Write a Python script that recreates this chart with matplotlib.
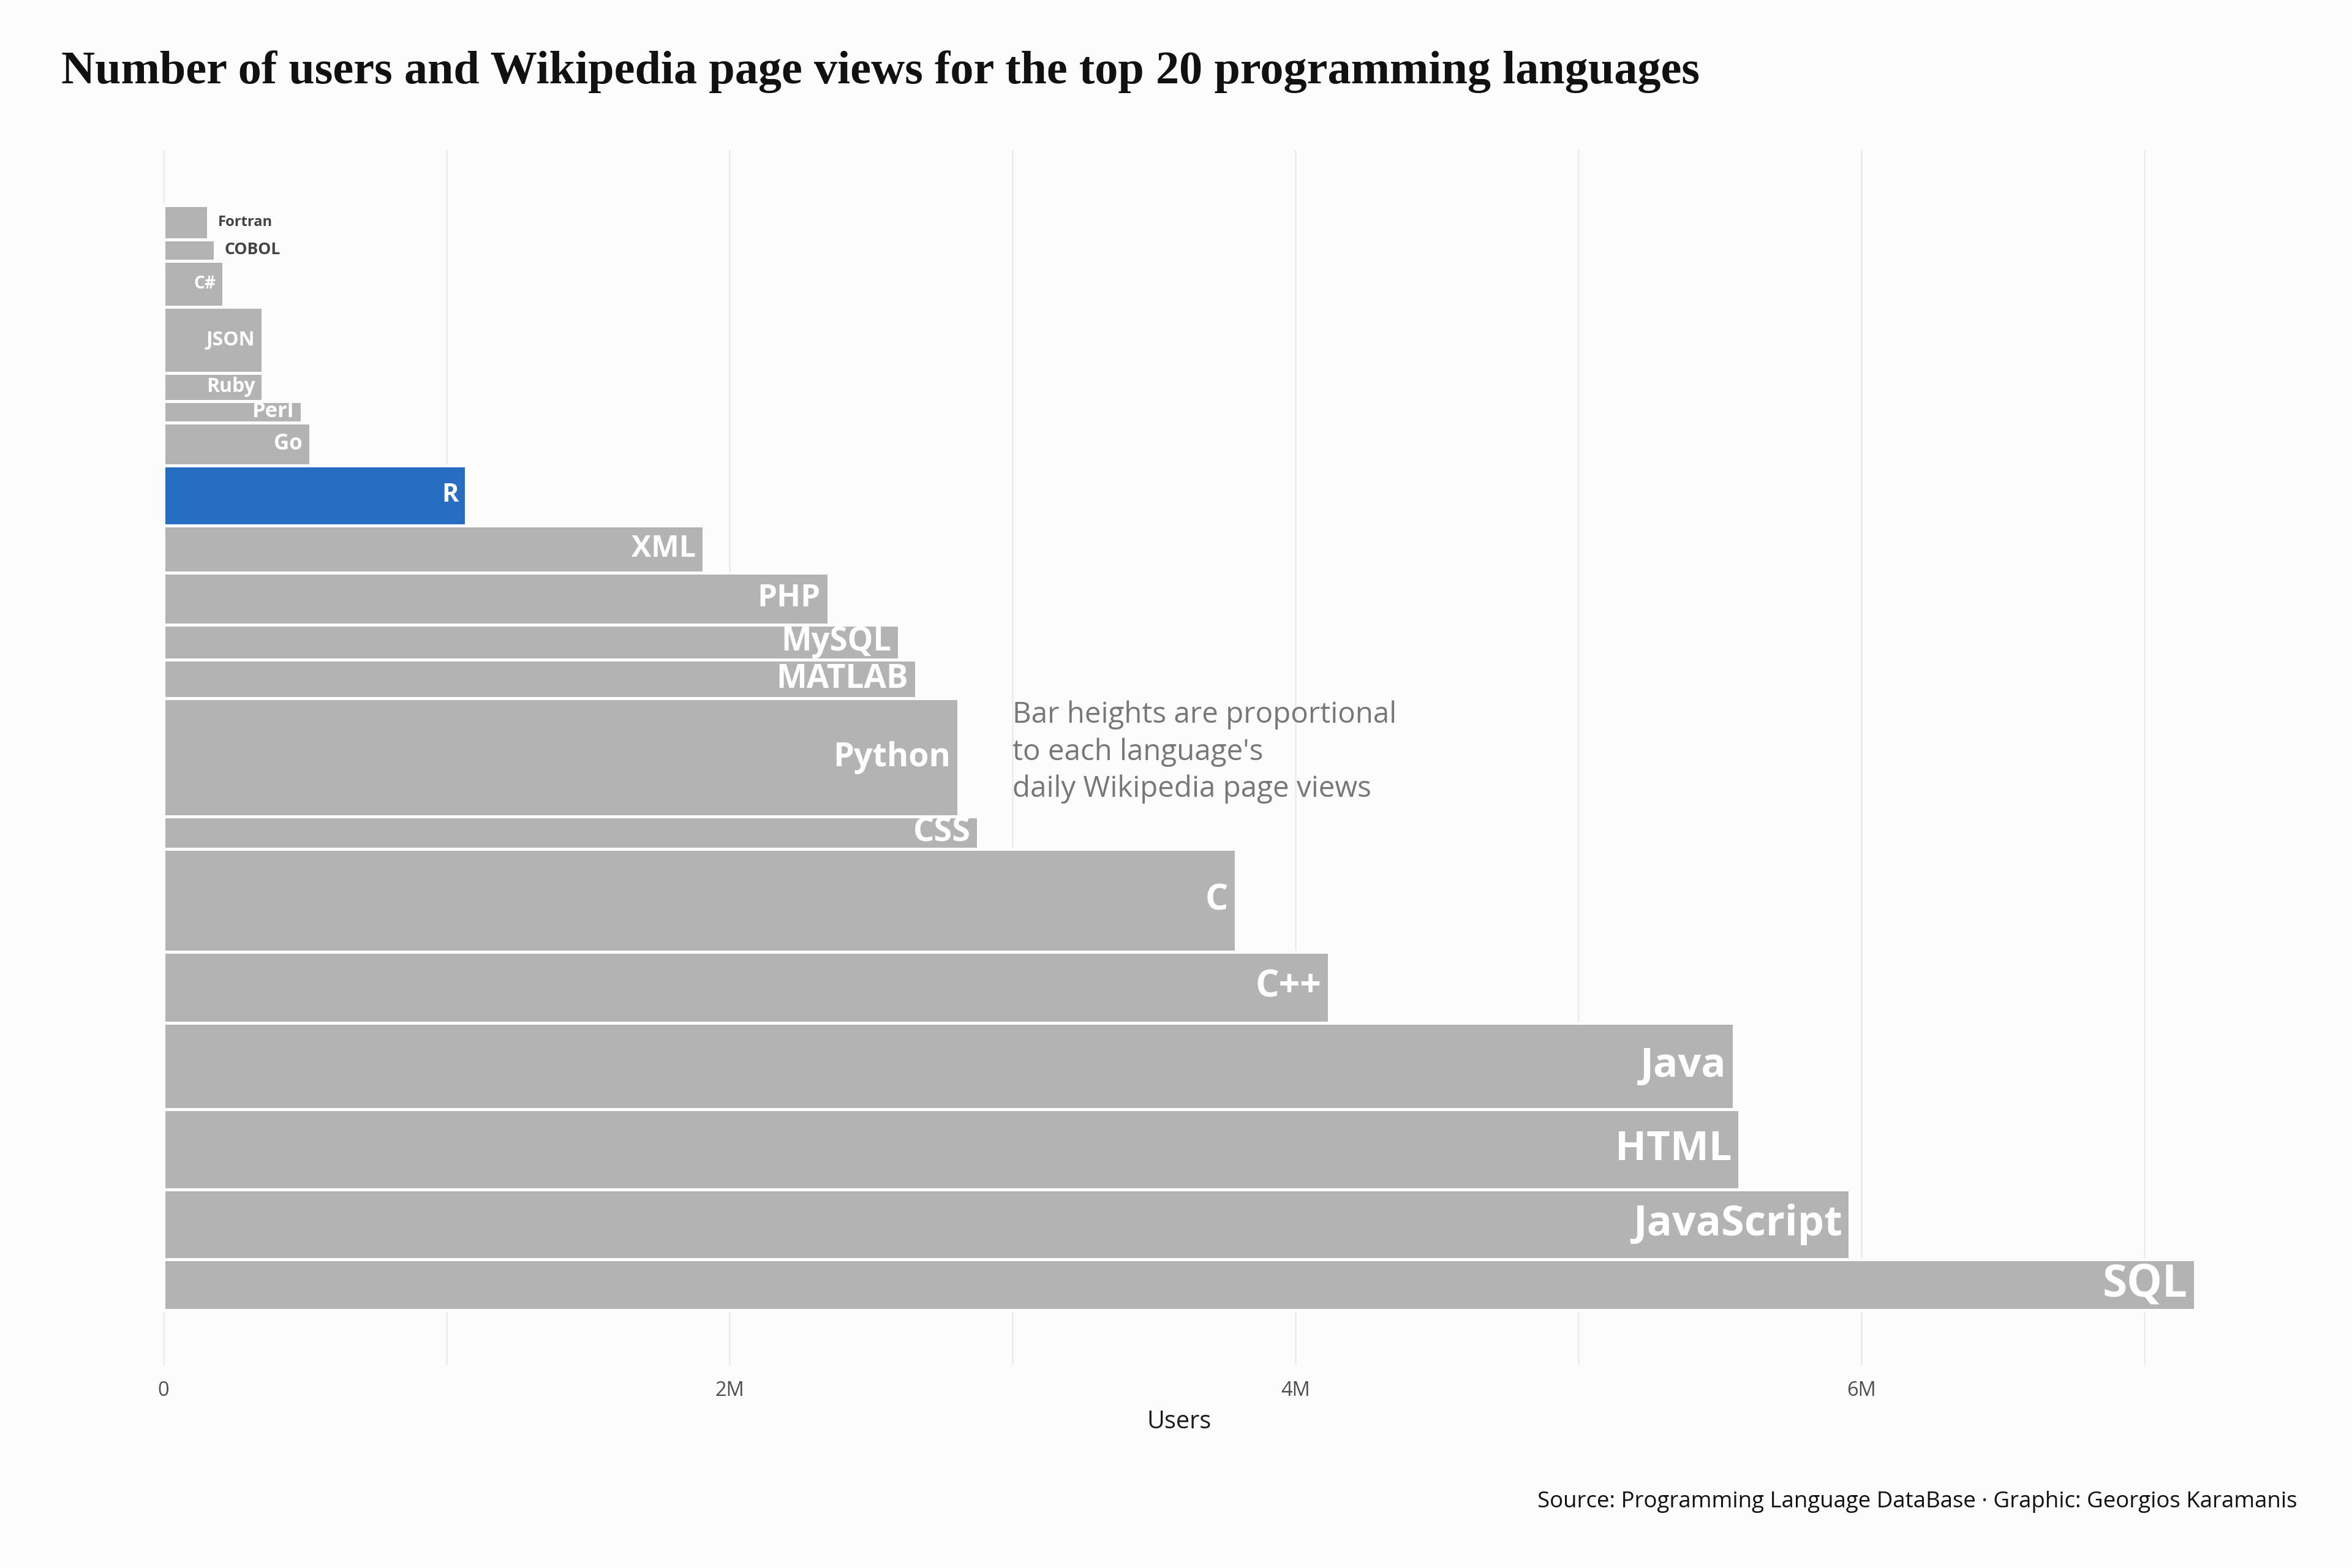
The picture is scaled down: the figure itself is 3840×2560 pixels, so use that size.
import numpy as np
import matplotlib
matplotlib.use("Agg")
import matplotlib.pyplot as plt
from matplotlib.ticker import FuncFormatter, MultipleLocator

# top 20 languages, ordered from the bottom bar (most users) to the top bar
languages = ["SQL", "JavaScript", "HTML", "Java", "C++", "C", "CSS", "Python",
             "MATLAB", "MySQL", "PHP", "XML", "R", "Go", "Perl", "Ruby",
             "JSON", "C#", "COBOL", "Fortran"]

# number of users (millions)
users = [7.18, 5.96, 5.57, 5.55, 4.12, 3.79, 2.88, 2.81,
         2.66, 2.60, 2.35, 1.91, 1.07, 0.52, 0.49, 0.352,
         0.351, 0.212, 0.182, 0.159]

# daily Wikipedia page views
page_views = [2480, 3440, 3950, 4240, 3480, 5060, 1570, 5810,
              1890, 1730, 2540, 2320, 2960, 2090, 1060, 1390,
              3240, 2250, 1060, 1670]

highlight = "R"

bg = "#FCFCFC"
grey_bar = "#B3B3B3"
blue_bar = "#276DC2"
label_font = "Open Sans"

plt.rcParams["font.family"] = [label_font, "DejaVu Sans"]

fig = plt.figure(figsize=(12.8, 2560 / 300), dpi=300, facecolor=bg)
ax = fig.add_axes([101 / 3840, 1 - 2229 / 2560, 3649 / 3840, 1984 / 2560])
ax.set_facecolor(bg)

users = np.array(users)
page_views = np.array(page_views)

# bars are stacked on top of each other, height = page views
bottoms = np.concatenate([[0], np.cumsum(page_views)[:-1]])
centers = bottoms + page_views / 2
colors = [blue_bar if l == highlight else grey_bar for l in languages]

ax.barh(centers, users, height=page_views, color=colors,
        edgecolor=bg, linewidth=1.2, zorder=2)

# label size grows with number of users (area-like scale, as in ggplot scale_size)
cap_min, cap_max = 17, 52  # cap heights in pixels
rel = np.sqrt((users - users.min()) / (users.max() - users.min()))
cap_px = cap_min + (cap_max - cap_min) * rel
sizes = cap_px / 0.714 * 72 / 300

for lang, u, yc, s in zip(languages, users, centers, sizes):
    if u < 0.2:
        # too small, put the label outside the bar
        ax.annotate(lang, (u, yc), xytext=(3.8, 0), textcoords="offset points",
                    ha="left", va="center", fontsize=s, fontweight="bold",
                    color="#444444", zorder=3)
    else:
        ax.annotate(lang, (u, yc), xytext=(-3.1, 0), textcoords="offset points",
                    ha="right", va="center", fontsize=s, fontweight="bold",
                    color="white", zorder=3)

total = page_views.sum()
ax.set_ylim(-0.05 * total, 1.05 * total)
ax.set_xlim(-0.05 * users.max(), 1.05 * users.max())

ax.xaxis.set_major_locator(MultipleLocator(2))
ax.xaxis.set_minor_locator(MultipleLocator(1))
ax.xaxis.set_major_formatter(FuncFormatter(lambda v, p: "0" if v == 0 else f"{v:.0f}M"))
ax.grid(axis="x", which="both", color="#EBEBEB", linewidth=0.6, zorder=0)
ax.set_axisbelow(True)
ax.tick_params(axis="x", which="both", length=0, pad=6, labelsize=7.8, labelcolor="#4D4D4D")
ax.set_yticks([])
for sp in ax.spines.values():
    sp.set_visible(False)
ax.set_xlabel("Users", fontsize=9.5, color="#1A1A1A", labelpad=3.5)

# note next to the bars
ax.text(3.0, 0.547, "Bar heights are proportional\nto each language's\ndaily Wikipedia page views",
        transform=ax.get_xaxis_transform(), ha="left", va="top",
        fontsize=11.4, color="#777777", linespacing=1.35, zorder=3)

fig.text(100 / 3840, 1 - 136 / 2560,
         "Number of users and Wikipedia page views for the top 20 programming languages",
         family="Liberation Serif", fontweight="bold", fontsize=18.3,
         ha="left", va="baseline", color="#111111")

fig.text(3750 / 3840, 1 - 2452 / 2560,
         "Source: Programming Language DataBase \u00b7 Graphic: Georgios Karamanis",
         ha="right", va="center", fontsize=8.8, color="#111111")

fig.savefig("out.png", dpi=300, facecolor=bg)
